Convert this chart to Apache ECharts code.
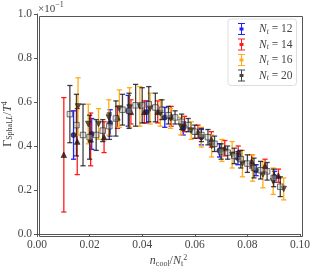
<!DOCTYPE html>
<html><head><meta charset="utf-8">
<script src="https://cdn.jsdelivr.net/npm/echarts@6/dist/echarts.min.js"></script>
<style>html,body{margin:0;padding:0;background:#fff}#c{width:315px;height:268px}</style>
</head><body><div id="c"></div>
<script>
// N_t = 12
const x12 = [0.0139,0.0208,0.0278,0.0347,0.0417,0.0486,0.0556,0.0625,0.0694,0.0764,0.0833,0.0903];
const y12 = [0.45,0.455,0.505,0.56,0.555,0.53,0.48,0.44,0.38,0.345,0.29,0.26];
const e12 = [0.11,0.07,0.06,0.07,0.05,0.045,0.03,0.035,0.03,0.03,0.025,0.025];
// N_t = 14
const x14 = [0.0102,0.0153,0.0204,0.0255,0.0306,0.0357,0.0408,0.0459,0.0510,0.0561,0.0612,0.0663,0.0714,0.0765,0.0816,0.0867,0.0918];
const y14 = [0.36,0.42,0.43,0.44,0.53,0.555,0.555,0.555,0.535,0.50,0.465,0.43,0.39,0.37,0.33,0.31,0.265];
const e14 = [0.26,0.15,0.12,0.07,0.05,0.055,0.05,0.05,0.045,0.035,0.03,0.035,0.035,0.03,0.03,0.03,0.03];
// N_t = 16
const x16 = [0.0156,0.0195,0.0234,0.0273,0.0313,0.0352,0.0391,0.0430,0.0469,0.0508,0.0547,0.0586,0.0625,0.0664,0.0703,0.0742,0.0781,0.0820,0.0859,0.0898,0.0938];
const y16 = [0.58,0.50,0.50,0.53,0.57,0.575,0.58,0.57,0.55,0.525,0.49,0.47,0.44,0.40,0.38,0.36,0.32,0.30,0.27,0.24,0.205];
const e16 = [0.13,0.09,0.07,0.08,0.085,0.09,0.09,0.07,0.06,0.045,0.04,0.04,0.045,0.05,0.05,0.06,0.06,0.06,0.06,0.06,0.05];
// N_t = 20
const x20 = [0.0125,0.015,0.0175,0.02,0.0225,0.025,0.0275,0.03,0.0325,0.035,0.0375,0.04,0.0425,0.045,0.0475,0.05,0.0525,0.055,0.0575,0.06,0.0625,0.065,0.0675,0.07,0.0725,0.075,0.0775,0.08,0.0825,0.085,0.0875,0.09,0.0925];
const y20 = [0.545,0.495,0.45,0.44,0.45,0.47,0.49,0.525,0.565,0.56,0.585,0.585,0.59,0.575,0.565,0.54,0.53,0.51,0.495,0.465,0.45,0.44,0.41,0.375,0.37,0.355,0.34,0.32,0.30,0.29,0.285,0.255,0.215];
const e20 = [0.13,0.14,0.14,0.10,0.07,0.05,0.06,0.08,0.07,0.08,0.095,0.08,0.08,0.065,0.045,0.04,0.03,0.035,0.03,0.03,0.03,0.035,0.035,0.035,0.03,0.035,0.04,0.04,0.045,0.04,0.04,0.04,0.045];

const xTicks = [0,0.02,0.04,0.06,0.08,0.10];
const yTicks = [0,0.2,0.4,0.6,0.8,1.0];

const SERIF = '"Liberation Serif", "DejaVu Serif", serif';
const FG = '#444';

function errSeries(name, xs, ys, es, color, width) {
  return {
    name, type: 'custom', itemStyle: {color},
    data: xs.map((x,i)=>[x, ys[i], es[i]]),
    encode: {x: 0, y: 1},
    renderItem: (params, api) => {
      const x = api.value(0), y = api.value(1), e = api.value(2);
      const hi = api.coord([x, y + e]), lo = api.coord([x, y - e]);
      const cw = 2.6;
      const st = {stroke: color, lineWidth: width};
      return {type: 'group', children: [
        {type:'line', shape:{x1:hi[0],y1:hi[1],x2:lo[0],y2:lo[1]}, style: st},
        {type:'line', shape:{x1:hi[0]-cw,y1:hi[1],x2:hi[0]+cw,y2:hi[1]}, style: st},
        {type:'line', shape:{x1:lo[0]-cw,y1:lo[1],x2:lo[0]+cw,y2:lo[1]}, style: st}
      ]};
    }
  };
}
function markSeries(name, xs, ys, symbol, fill, size) {
  return {
    name, type: 'scatter', symbol, symbolSize: size,
    data: xs.map((x,i)=>[x, ys[i]]),
    itemStyle: {color: fill, borderColor: '#222', borderWidth: 0.8},
    emphasis: {disabled: true}
  };
}
const downTri = 'path://M0,0L10,0L5,9Z';
const names = ['Nt12','Nt14','Nt16','Nt20'];
const labels = {Nt12:'12', Nt14:'14', Nt16:'16', Nt20:'20'};

const iconBar = 'path://M0,0h7v1h-7z M3,0h1v12h-1z M0,11h7v1h-7z M1.5,4.5h4v3h-4z';

const chart = echarts.init(document.getElementById('c'), null, {renderer: 'canvas'});
chart.setOption({
  animation: false,
  grid: {left: 37, right: 15, top: 14, bottom: 34, containLabel: false, outerBoundsMode: 'none'},
  xAxis: {
    type: 'value', min: 0, max: 0.1, interval: 0.02,
    axisLine: {lineStyle: {color: '#555', width: 1}},
    axisTick: {show: true, length: 3, lineStyle: {color: '#555'}},
    axisLabel: {color: FG, fontFamily: SERIF, fontSize: 11.5, margin: 5, formatter: v => v.toFixed(2)},
    splitLine: {show: false},
    name: '{i|n}{s|cool}{r|/}{i|N}{s|t}{p|2}',
    nameLocation: 'middle', nameGap: 19, nameMoveOverlap: false,
    nameTextStyle: {
      rich: {
        i: {fontFamily: SERIF, fontStyle: 'italic', fontSize: 12, color: FG, lineHeight: 16, verticalAlign: 'middle'},
        r: {fontFamily: SERIF, fontSize: 12, color: FG, lineHeight: 16, verticalAlign: 'middle'},
        s: {fontFamily: SERIF, fontSize: 8, color: FG, lineHeight: 16, verticalAlign: 'bottom', padding: [0,0,1,0]},
        p: {fontFamily: SERIF, fontSize: 8, color: FG, lineHeight: 16, verticalAlign: 'top', padding: [1,0,0,0]}
      }
    }
  },
  yAxis: {
    type: 'value', min: 0, max: 1.0, interval: 0.2,
    axisLine: {show: true, lineStyle: {color: '#555', width: 1}},
    axisTick: {show: true, length: 3, lineStyle: {color: '#555'}},
    axisLabel: {color: FG, fontFamily: SERIF, fontSize: 11.5, margin: 5, formatter: v => v.toFixed(1)},
    splitLine: {show: false},
    name: '{r|Γ}{s|Sphal,}{si|L}{r|/}{i|T}{p|4}',
    nameLocation: 'middle', nameGap: 22, nameRotate: 90, nameMoveOverlap: false,
    nameTextStyle: {
      rich: {
        i: {fontFamily: SERIF, fontStyle: 'italic', fontSize: 12, color: FG, lineHeight: 15, verticalAlign: 'middle'},
        r: {fontFamily: SERIF, fontSize: 12, color: FG, lineHeight: 15, verticalAlign: 'middle'},
        s: {fontFamily: SERIF, fontSize: 8, color: FG, lineHeight: 15, verticalAlign: 'bottom', padding: [0,0,1,0]},
        si: {fontFamily: SERIF, fontStyle: 'italic', fontSize: 8, color: FG, lineHeight: 15, verticalAlign: 'bottom', padding: [0,0,1,0]},
        p: {fontFamily: SERIF, fontSize: 8, color: FG, lineHeight: 15, verticalAlign: 'top', padding: [1,0,0,0]}
      }
    }
  },
  legend: {
    orient: 'vertical', left: 228, top: 19,
    backgroundColor: '#fff', borderColor: '#ddd', borderWidth: 1, borderRadius: 3,
    padding: [4, 4, 3, 10], itemGap: 2.5, itemWidth: 7, itemHeight: 12,
    data: names.map(n => ({name: n, icon: iconBar})),
    formatter: n => '{i|N}{s|t}{r| = ' + labels[n] + '}',
    textStyle: {
      padding: [0, 0, 0, 9],
      rich: {
        i: {fontFamily: SERIF, fontStyle: 'italic', fontSize: 11.5, color: FG, lineHeight: 14, verticalAlign: 'middle'},
        r: {fontFamily: SERIF, fontSize: 11.5, color: FG, lineHeight: 14, verticalAlign: 'middle'},
        s: {fontFamily: SERIF, fontStyle: 'italic', fontSize: 7.5, color: FG, lineHeight: 14, verticalAlign: 'bottom'}
      }
    }
  },
  graphic: [
    {type: 'rect', left: 37, top: 14, shape: {width: 263, height: 220}, style: {fill: 'none', stroke: '#555', lineWidth: 1}, silent: true, z: 0},
    {type: 'text', left: 38, top: 1, style: {rich: {
      r: {fontFamily: SERIF, fontSize: 11, fill: FG, lineHeight: 14, verticalAlign: 'bottom'},
      p: {fontFamily: SERIF, fontSize: 8, fill: FG, lineHeight: 14, verticalAlign: 'top'}
    }, text: '{r|×10}{p|−1}'}}
  ],
  series: [
    errSeries('Nt12', x12, y12, e12, '#1f1fff', 1.3),
    markSeries('Nt12', x12, y12, 'circle', '#10106a', 5),
    errSeries('Nt14', x14, y14, e14, '#ff1a1a', 1.3),
    markSeries('Nt14', x14, y14, 'triangle', '#3a0a0a', 5.5),
    errSeries('Nt16', x16, y16, e16, '#ffab1a', 1.3),
    markSeries('Nt16', x16, y16, downTri, '#4a3000', 5.5),
    errSeries('Nt20', x20, y20, e20, 'rgba(20,20,20,0.8)', 1.3),
    markSeries('Nt20', x20, y20, 'rect', 'rgba(200,200,200,0.5)', 5.5)
  ]
});
</script></body></html>
